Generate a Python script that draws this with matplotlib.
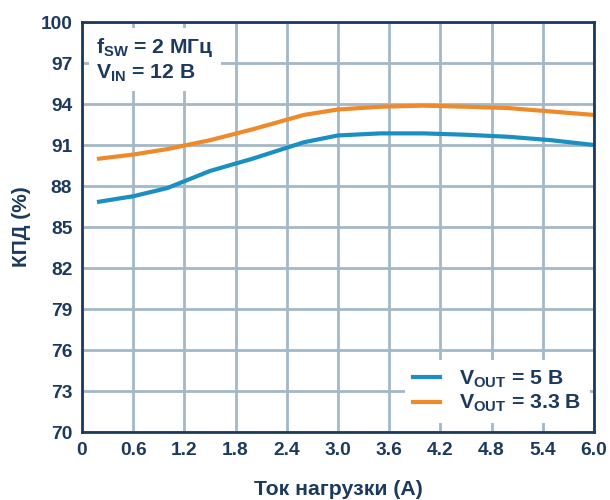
import matplotlib
matplotlib.use("Agg")
import matplotlib.pyplot as plt

x_5v = [0.2, 0.6, 1.0, 1.5, 2.0, 2.6, 3.0, 3.5, 4.0, 4.5, 5.0, 5.5, 6.0]
eff_5v = [86.85, 87.25, 87.85, 89.1, 90.0, 91.2, 91.7, 91.85, 91.85, 91.75, 91.6, 91.35, 91.0]
x_33v = [0.2, 0.6, 1.0, 1.5, 2.0, 2.6, 3.0, 3.5, 4.0, 4.5, 5.0, 5.5, 6.0]
eff_33v = [90.0, 90.3, 90.7, 91.35, 92.15, 93.2, 93.6, 93.8, 93.88, 93.8, 93.7, 93.45, 93.2]

x_ticks = [0, 0.6, 1.2, 1.8, 2.4, 3.0, 3.6, 4.2, 4.8, 5.4, 6.0]
x_ticklabels = ["0", "0.6", "1.2", "1.8", "2.4", "3.0", "3.6", "4.2", "4.8", "5.4", "6.0"]
y_ticks = [70, 73, 76, 79, 82, 85, 88, 91, 94, 97, 100]

NAVY = "#1c3a5e"
BLUE = "#1a8fc1"
ORANGE = "#ee8a2a"
GRID = "#a3b8c8"

plt.rcParams["font.family"] = ["Liberation Sans", "DejaVu Sans"]
plt.rcParams["font.weight"] = "bold"
plt.rcParams["mathtext.fontset"] = "custom"
plt.rcParams["mathtext.rm"] = "Liberation Sans:bold"
plt.rcParams["mathtext.it"] = "Liberation Sans:bold"
plt.rcParams["mathtext.bf"] = "Liberation Sans:bold"

fig = plt.figure(figsize=(6.1, 5.0), dpi=100)
ax = fig.add_axes([0.1344, 0.136, 0.8394, 0.82])

ax.plot(x_5v, eff_5v, color=BLUE, lw=3, label=r"V$_{\mathrm{OUT}}$ = 5 В", zorder=3)
ax.plot(x_33v, eff_33v, color=ORANGE, lw=3, label=r"V$_{\mathrm{OUT}}$ = 3.3 В", zorder=3)

ax.set_xlim(0, 6.0)
ax.set_ylim(70, 100)
ax.set_xticks(x_ticks)
ax.set_xticklabels(x_ticklabels)
ax.set_yticks(y_ticks)
ax.grid(True, color=GRID, lw=2, zorder=0)
ax.set_axisbelow(True)
ax.tick_params(length=0, labelsize=13.8, labelcolor=NAVY, pad=7)
for lab in ax.get_xticklabels() + ax.get_yticklabels():
    lab.set_fontweight("bold")
for s in ax.spines.values():
    s.set_color(NAVY)
    s.set_linewidth(2)
    s.set_zorder(5)

ax.set_xlabel("Ток нагрузки (A)", fontsize=15.3, color=NAVY, fontweight="bold", labelpad=15)
ax.set_ylabel("КПД (%)", fontsize=15, color=NAVY, fontweight="bold", labelpad=7)

ax.text(0.028, 0.967, "f$_{\\mathrm{SW}}$ = 2 МГц\nV$_{\\mathrm{IN}}$ = 12 В", transform=ax.transAxes,
        fontsize=15.2, color=NAVY, fontweight="bold", va="top", ha="left", linespacing=1.28,
        bbox=dict(facecolor="white", edgecolor="none", pad=5), zorder=4)

leg = ax.legend(loc="lower right", bbox_to_anchor=(0.992, 0.022), borderaxespad=0, frameon=True,
                fontsize=15.3, handlelength=1.25, handletextpad=0.9, borderpad=0.4,
                labelspacing=0.16)
leg.get_frame().set_facecolor("white")
leg.get_frame().set_edgecolor("none")
leg.get_frame().set_alpha(1)
leg.get_frame().set_boxstyle("square", pad=0)
for t in leg.get_texts():
    t.set_color(NAVY)
    t.set_fontweight("bold")

fig.savefig("out.png", dpi=100)
